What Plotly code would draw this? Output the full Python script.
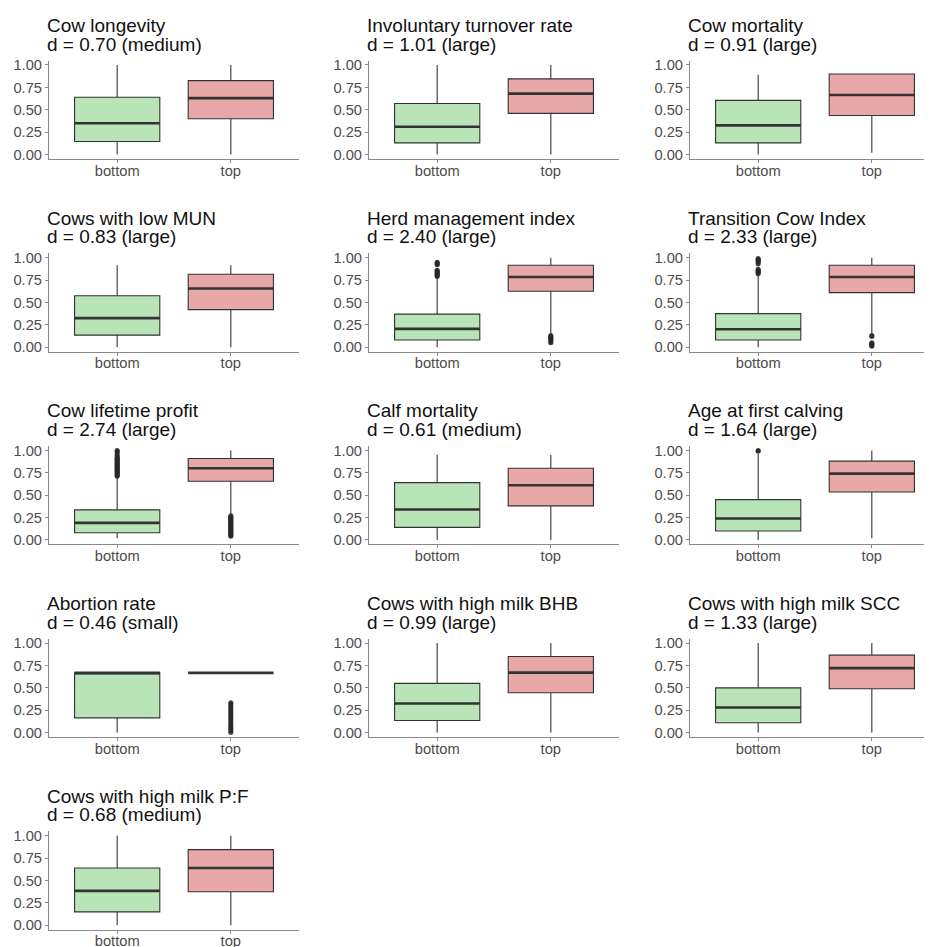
import plotly.graph_objects as go

# ---------------- data ----------------
titles = [
    "Cow longevity", "Involuntary turnover rate", "Cow mortality",
    "Cows with low MUN", "Herd management index", "Transition Cow Index",
    "Cow lifetime profit", "Calf mortality", "Age at first calving",
    "Abortion rate", "Cows with high milk BHB", "Cows with high milk SCC",
    "Cows with high milk P:F",
]
effects = [
    "d = 0.70 (medium)", "d = 1.01 (large)", "d = 0.91 (large)",
    "d = 0.83 (large)", "d = 2.40 (large)", "d = 2.33 (large)",
    "d = 2.74 (large)", "d = 0.61 (medium)", "d = 1.64 (large)",
    "d = 0.46 (small)", "d = 0.99 (large)", "d = 1.33 (large)",
    "d = 0.68 (medium)",
]
groups = ["bottom", "top"]
y_ticks = [0, 0.25, 0.5, 0.75, 1.0]

# bottom group summary statistics
bottom_lo  = [0.00, 0.00, 0.00, 0.00, 0.00, 0.00, 0.02, 0.00, 0.00, 0.00, 0.00, 0.00, 0.00]
bottom_q1  = [0.145, 0.13, 0.13, 0.135, 0.08, 0.08, 0.08, 0.14, 0.10, 0.165, 0.135, 0.11, 0.15]
bottom_med = [0.35, 0.31, 0.325, 0.325, 0.205, 0.20, 0.19, 0.34, 0.24, 0.667, 0.325, 0.28, 0.385]
bottom_q3  = [0.64, 0.57, 0.605, 0.575, 0.37, 0.375, 0.335, 0.64, 0.45, 0.667, 0.55, 0.50, 0.64]
bottom_hi  = [1.00, 1.00, 0.89, 0.915, 0.77, 0.80, 0.70, 0.95, 0.96, 0.667, 1.00, 1.00, 1.00]

# top group summary statistics
top_lo  = [0.00, 0.00, 0.02, 0.00, 0.15, 0.15, 0.28, 0.00, 0.02, 0.667, 0.00, 0.00, 0.00]
top_q1  = [0.40, 0.46, 0.435, 0.42, 0.625, 0.61, 0.655, 0.38, 0.535, 0.667, 0.445, 0.49, 0.375]
top_med = [0.63, 0.68, 0.665, 0.655, 0.785, 0.785, 0.80, 0.61, 0.74, 0.667, 0.67, 0.72, 0.64]
top_q3  = [0.825, 0.845, 0.90, 0.815, 0.915, 0.915, 0.91, 0.80, 0.88, 0.667, 0.85, 0.865, 0.845]
top_hi  = [1.00, 1.00, 0.90, 0.915, 1.00, 1.00, 1.00, 0.95, 1.00, 0.667, 1.00, 1.00, 1.00]

# outliers
bottom_outliers = [
    [], [], [], [],
    [0.79, 0.80, 0.81, 0.82, 0.83, 0.84, 0.85, 0.86, 0.92, 0.93, 0.94, 0.95],
    [0.82, 0.83, 0.84, 0.85, 0.86, 0.87, 0.93, 0.95, 0.96, 0.97, 0.98, 0.99],
    [0.71, 0.72, 0.73, 0.74, 0.75, 0.76, 0.77, 0.78, 0.79, 0.80, 0.81, 0.82,
     0.83, 0.84, 0.85, 0.86, 0.87, 0.88, 0.89, 0.90, 0.91, 0.92, 0.93, 0.95,
     0.97, 0.99, 1.00],
    [],
    [0.99, 1.00],
    [], [], [], [],
]
top_outliers = [
    [], [], [], [],
    [0.05, 0.06, 0.08, 0.09, 0.10, 0.11, 0.12, 0.13],
    [0.01, 0.02, 0.03, 0.04, 0.05, 0.12, 0.13],
    [0.04, 0.05, 0.06, 0.07, 0.08, 0.09, 0.10, 0.11, 0.12, 0.13, 0.14, 0.15,
     0.16, 0.17, 0.18, 0.19, 0.20, 0.21, 0.22, 0.23, 0.24, 0.25, 0.26, 0.27],
    [],
    [],
    [0.00, 0.02, 0.04, 0.06, 0.08, 0.10, 0.12, 0.14, 0.16, 0.18, 0.20, 0.22,
     0.24, 0.26, 0.28, 0.30, 0.32, 0.333],
    [], [], [],
]

# ---------------- styling ----------------
OFF = 8  # page body margin around the plot div
W, H = 932 - OFF, 947 - OFF
FONT = "Liberation Sans, Arial, sans-serif"
fills = {"bottom": "#b9e4b8", "top": "#e8a8a8"}
EDGE = "#333333"
AXIS = "#8a8a8a"
TICKFONT = dict(size=14.7, color="#4d4d4d", family=FONT)
TITLE_FS = 19
col_left = [49 - OFF, 369 - OFF, 690 - OFF]
panel_w = 250.0
row_top0 = 60.5 - OFF
row_step = 192.7
panel_h = 98.5
max_right = 930 - OFF

fig = go.Figure()
layout_axes = {}
annotations = []

for i, title in enumerate(titles):
    r, c = divmod(i, 3)
    n = i + 1
    xname = "x" if n == 1 else f"x{n}"
    yname = "y" if n == 1 else f"y{n}"
    xkey = "xaxis" if n == 1 else f"xaxis{n}"
    ykey = "yaxis" if n == 1 else f"yaxis{n}"

    left = col_left[c]
    right = min(left + panel_w, max_right)
    top = row_top0 + row_step * r
    bottom = top + panel_h

    stats = {
        "bottom": (bottom_lo[i], bottom_q1[i], bottom_med[i], bottom_q3[i], bottom_hi[i], bottom_outliers[i]),
        "top": (top_lo[i], top_q1[i], top_med[i], top_q3[i], top_hi[i], top_outliers[i]),
    }
    for g in groups:
        lo, q1, med, q3, hi, outs = stats[g]
        fig.add_trace(go.Box(
            x=[g], q1=[q1], median=[med], q3=[q3], lowerfence=[lo], upperfence=[hi],
            width=0.75, whiskerwidth=0, fillcolor=fills[g],
            line=dict(color=EDGE, width=1.1), boxpoints=False,
            xaxis=xname, yaxis=yname, showlegend=False, hoverinfo="skip",
        ))
        # thicker median bar, as in the reference
        fig.add_trace(go.Box(
            x=[g], q1=[med], median=[med], q3=[med], lowerfence=[med], upperfence=[med],
            width=0.75, whiskerwidth=0, fillcolor="rgba(0,0,0,0)",
            line=dict(color=EDGE, width=2.6), boxpoints=False,
            xaxis=xname, yaxis=yname, showlegend=False, hoverinfo="skip",
        ))
        if outs:
            fig.add_trace(go.Scatter(
                x=[g] * len(outs), y=outs, mode="markers",
                marker=dict(color="rgba(40,40,40,0.85)", size=5),
                xaxis=xname, yaxis=yname, showlegend=False, hoverinfo="skip",
            ))

    layout_axes[xkey] = dict(
        domain=[left / W, right / W], anchor=yname,
        type="category", categoryorder="array", categoryarray=groups,
        range=[-0.6, -0.6 + 2.2 * (right - left) / panel_w],
        showline=True, linecolor=AXIS, linewidth=1,
        ticks="outside", ticklen=3, tickcolor=AXIS,
        tickfont=TICKFONT, ticklabelstandoff=-5, automargin=False,
        showgrid=False, zeroline=False, fixedrange=True,
    )
    layout_axes[ykey] = dict(
        domain=[1 - bottom / H, 1 - top / H], anchor=xname,
        range=[-0.05, 1.05], tickvals=y_ticks, tickformat=".2f",
        showline=True, linecolor=AXIS, linewidth=1,
        ticks="outside", ticklen=3, tickcolor=AXIS,
        tickfont=TICKFONT, automargin=False,
        showgrid=False, zeroline=False, fixedrange=True,
    )
    # two title lines, tightly spaced as in the reference
    for line_text, base in ((title, top - 28.5), (effects[i], top - 10)):
        annotations.append(dict(
            text=line_text,
            xref="paper", yref="paper",
            x=(left - 4) / W, y=1 - (base - 6.5) / H,
            xanchor="left", yanchor="middle", align="left",
            showarrow=False,
            font=dict(size=TITLE_FS, color="#111111", family=FONT),
        ))

fig.update_layout(
    width=W, height=H,
    margin=dict(l=0, r=0, t=0, b=0, autoexpand=False),
    paper_bgcolor="white", plot_bgcolor="white",
    boxmode="overlay",
    font=dict(family=FONT),
    annotations=annotations,
    **layout_axes,
)

fig.write_html("out.html")
